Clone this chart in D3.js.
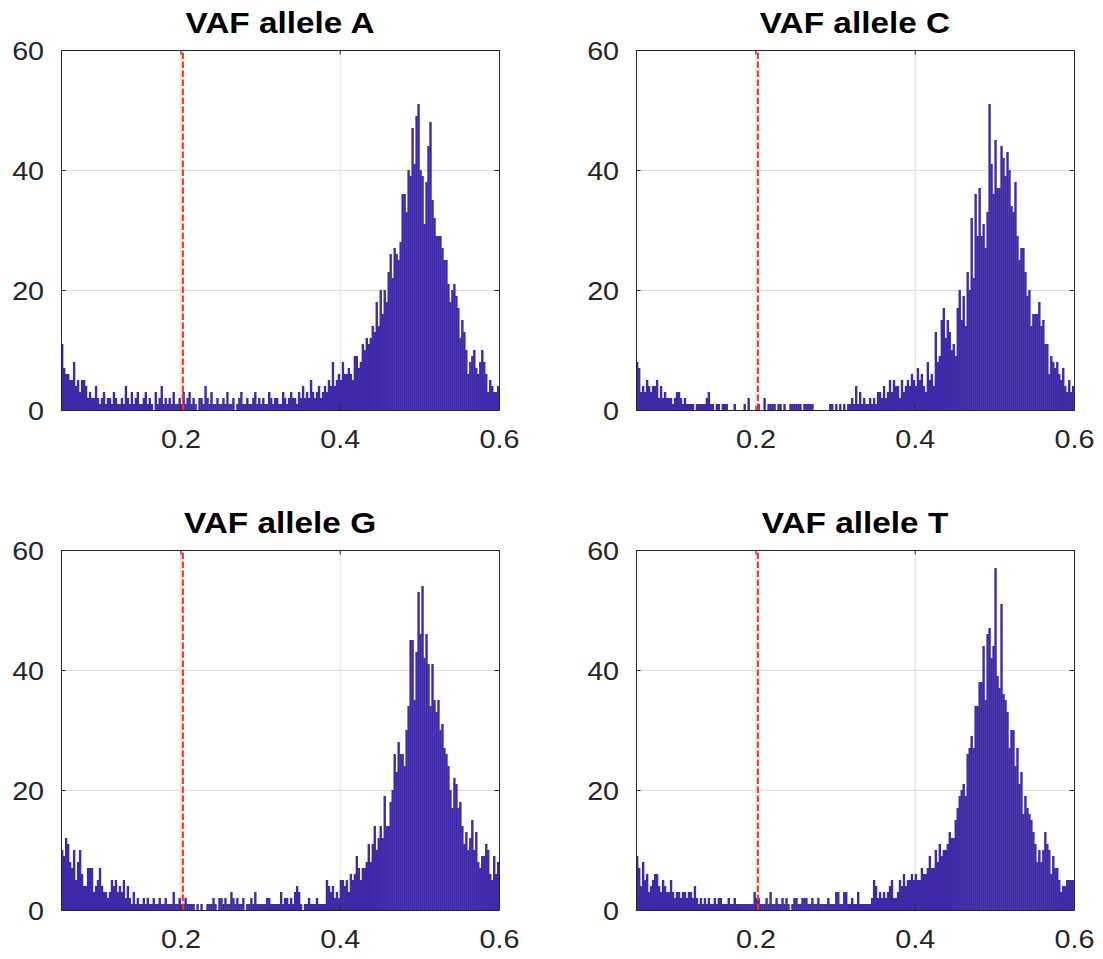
<!DOCTYPE html>
<html>
<head>
<meta charset="utf-8">
<script src="https://cdn.jsdelivr.net/npm/d3@7"></script>
<style>
  body { margin: 0; background: #ffffff; }
  text { font-family: "Liberation Sans", Arial, sans-serif; }
</style>
</head>
<body>
<script>
// Histogram counts, one bin every 0.0025 from 0.05 to 0.6 (220 bins)
var titles = ["VAF allele A", "VAF allele C", "VAF allele G", "VAF allele T"];

var countsA = [
  11,7,6,6,5,5,8,4,5,3,5,5,4,2,3,2,2,4,2,1,
  2,3,1,2,2,1,3,2,1,1,2,1,4,2,1,3,1,2,3,1,
  1,2,3,1,2,1,0,3,1,2,4,1,2,1,2,1,3,1,1,2,
  1,3,1,2,3,1,2,1,0,2,2,1,4,2,1,3,1,1,2,1,
  1,2,1,3,1,1,2,0,1,2,3,1,1,2,1,1,2,3,1,2,
  1,2,1,1,3,2,1,2,2,1,1,3,2,1,2,3,2,2,1,3,
  2,4,2,3,2,5,3,2,3,4,2,3,4,3,5,4,8,4,5,6,
  5,8,6,6,7,6,5,9,9,7,8,11,10,12,11,12,14,13,18,14,
  20,16,20,18,23,26,22,27,26,25,28,36,36,33,40,39,47,41,49,51,
  40,39,31,38,44,48,35,32,29,29,29,27,25,25,21,18,20,21,19,17,
  12,15,13,10,6,8,9,10,7,6,8,10,8,6,3,5,4,3,3,4
];

var countsC = [
  8,7,3,4,3,5,4,3,4,4,5,2,4,2,3,2,2,2,1,2,
  3,3,2,1,2,1,1,1,1,0,1,1,1,1,1,2,3,1,1,0,
  1,1,0,1,1,1,0,0,0,1,0,0,0,0,1,0,2,0,0,0,
  0,1,0,0,2,0,1,1,1,1,0,1,1,0,1,0,0,1,1,1,
  1,1,1,0,1,1,1,1,1,0,0,0,0,0,0,0,0,1,1,0,
  1,0,1,0,1,0,1,1,2,1,4,1,3,1,2,1,1,2,1,2,
  1,3,3,2,4,2,3,5,3,5,4,4,2,5,3,4,5,4,6,5,
  4,7,5,6,4,3,8,5,6,4,13,8,9,15,17,12,15,13,10,11,
  9,17,20,15,19,14,23,20,32,22,36,29,37,29,31,27,33,51,41,36,
  45,37,37,44,42,39,43,40,34,33,38,29,25,27,27,23,19,20,14,16,
  16,16,18,14,15,11,11,6,9,8,7,8,6,5,7,4,3,5,3,4
];

var countsG = [
  10,9,12,11,8,7,10,5,8,10,6,4,4,7,7,7,3,4,5,7,
  4,3,3,2,3,5,4,5,3,4,3,5,2,4,2,1,3,1,2,1,
  1,2,1,2,1,1,2,1,1,2,1,1,2,1,1,1,3,1,1,2,
  1,1,2,1,1,1,1,0,1,0,1,0,0,1,1,1,2,1,0,2,
  2,1,2,1,1,3,2,1,2,1,1,2,0,1,1,2,1,3,1,1,
  1,1,1,2,2,1,1,1,1,1,3,1,2,2,1,2,1,3,4,3,
  1,0,1,1,2,1,1,1,2,1,1,1,1,5,4,3,4,2,3,2,
  5,5,4,5,3,6,5,6,9,7,5,7,7,8,11,8,11,14,10,12,
  14,12,19,14,14,18,20,26,23,28,26,26,24,30,34,45,45,35,43,53,
  46,54,42,46,41,34,41,35,33,35,30,31,27,26,24,20,17,22,21,17,
  18,14,11,13,10,12,15,10,13,8,7,9,9,11,10,6,5,9,6,8
];

var countsT = [
  9,7,4,8,5,6,3,4,5,6,6,4,3,5,4,3,3,5,3,2,
  3,3,2,3,3,2,3,3,2,4,2,1,2,1,2,1,2,1,1,2,
  1,2,2,1,1,1,2,1,1,2,1,1,1,1,1,1,1,1,1,3,
  2,2,1,1,1,2,1,3,1,1,2,1,1,2,1,2,1,0,1,2,
  2,1,1,2,2,2,1,1,2,1,1,2,1,1,1,1,2,1,1,1,
  3,3,1,1,3,3,1,1,2,1,1,3,1,1,1,1,1,1,2,5,
  4,2,3,2,3,2,3,4,5,2,2,3,5,4,6,4,5,5,6,5,
  6,5,5,7,6,6,7,9,7,7,10,8,11,9,10,10,11,13,12,12,
  15,17,19,20,21,19,26,27,29,27,34,34,38,38,44,35,46,47,42,44,
  57,39,37,51,36,35,33,27,30,30,24,27,21,23,16,19,17,16,15,13,
  11,8,10,8,10,13,11,10,6,9,7,7,5,3,4,4,5,5,5,5
];

var xTicks = [0.2, 0.4, 0.6];
var yTicks = [0, 20, 40, 60];
var xDomain = [0.05, 0.6];
var yDomain = [0, 60];
var binStart = 0.05;
var binWidth = 0.0025;
var threshold = 0.203;

var svg_width = 1103;
var svg_height = 959;
var plot_width = 438;
var plot_height = 360;
var col_left = [61, 636];
var row_top = [50, 550];

var bar_color = "#3f29a8";
var grid_color = "#dfdfdf";
var axis_color = "#262626";
var text_stretch = "scale(1.15,1)";

var svg;

function start()
{
  svg = d3.select("body").append("svg")
          .attr("width", svg_width)
          .attr("height", svg_height);

  svg.append("rect")
     .attr("width", svg_width)
     .attr("height", svg_height)
     .attr("fill", "#ffffff");

  var allCounts = [countsA, countsC, countsG, countsT];
  for (var k = 0; k < 4; k++)
  {
    drawPanel(col_left[k % 2], row_top[Math.floor(k / 2)], titles[k], allCounts[k]);
  }
}


function drawPanel(left, top, title, counts)
{
  var x = d3.scaleLinear().domain(xDomain).range([0, plot_width]);
  var y = d3.scaleLinear().domain(yDomain).range([plot_height, 0]);

  var g = svg.append("g").attr("transform", "translate(" + left + "," + top + ")");

  // Grid
  g.append("g")
     .attr("class", "grid")
     .attr("transform", "translate(0," + plot_height + ")")
     .call(d3.axisBottom(x).tickValues(xTicks).tickSize(-plot_height).tickFormat(""))
     .call(function(s) { s.select(".domain").remove(); });
  g.append("g")
     .attr("class", "grid")
     .call(d3.axisLeft(y).tickValues(yTicks).tickSize(-plot_width).tickFormat(""))
     .call(function(s) { s.select(".domain").remove(); });
  g.selectAll(".grid line").attr("stroke", grid_color).attr("stroke-width", 1);

  // Bars (slightly widened so neighbours meet without seams)
  var bins = counts.map(function(c, i)
  {
    return { x0: binStart + i * binWidth, x1: binStart + (i + 1) * binWidth, count: c };
  });

  g.selectAll("rect.bar").data(bins.filter(function(d) { return d.count > 0; }))
     .enter().append("rect")
     .attr("class", "bar")
     .attr("x", function(d) { return x(d.x0); })
     .attr("width", function(d) { return Math.min(x(d.x1) + 0.4, plot_width) - x(d.x0); })
     .attr("y", function(d) { return y(d.count); })
     .attr("height", function(d) { return y(0) - y(d.count); })
     .attr("fill", bar_color);

  // Threshold line
  g.append("line")
     .attr("x1", x(threshold)).attr("x2", x(threshold))
     .attr("y1", y(yDomain[0])).attr("y2", y(yDomain[1]))
     .attr("stroke", "#ff2d12")
     .attr("stroke-width", 2)
     .attr("stroke-dasharray", "6.5,2.5");

  // Axes (box, inward ticks)
  var tickLen = -4.5;
  var left_axis = g.append("g")
     .call(d3.axisLeft(y).tickValues(yTicks).tickSizeInner(tickLen).tickSizeOuter(0).tickPadding(13));
  var bottom_axis = g.append("g")
     .attr("transform", "translate(0," + plot_height + ")")
     .call(d3.axisBottom(x).tickValues(xTicks).tickSizeInner(tickLen).tickSizeOuter(0).tickPadding(20)
           .tickFormat(d3.format(".1f")));
  var right_axis = g.append("g")
     .attr("transform", "translate(" + plot_width + ",0)")
     .call(d3.axisRight(y).tickValues(yTicks).tickSizeInner(tickLen).tickSizeOuter(0).tickFormat(""));
  var top_axis = g.append("g")
     .call(d3.axisTop(x).tickValues(xTicks).tickSizeInner(tickLen).tickSizeOuter(0).tickFormat(""));

  [left_axis, bottom_axis, right_axis, top_axis].forEach(function(a)
  {
    a.select(".domain").attr("stroke", axis_color);
    a.selectAll(".tick line").attr("stroke", axis_color);
    a.selectAll("text")
       .attr("fill", axis_color)
       .attr("font-size", "25px")
       .attr("font-family", "Liberation Sans, Arial, sans-serif");
  });

  left_axis.selectAll("text").attr("dy", "0.36em")
     .attr("transform", function() { return "translate(" + d3.select(this).attr("x") * 0.15 + ",0) " + text_stretch; });
  bottom_axis.selectAll("text").attr("dy", "0.71em").attr("transform", text_stretch);

  // Title
  g.append("text")
     .attr("transform", "translate(" + (plot_width / 2) + "," + (-17) + ") " + text_stretch)
     .attr("text-anchor", "middle")
     .attr("font-size", "29px")
     .attr("font-weight", "bold")
     .attr("fill", "#000000")
     .text(title);
}

start();
</script>
</body>
</html>
